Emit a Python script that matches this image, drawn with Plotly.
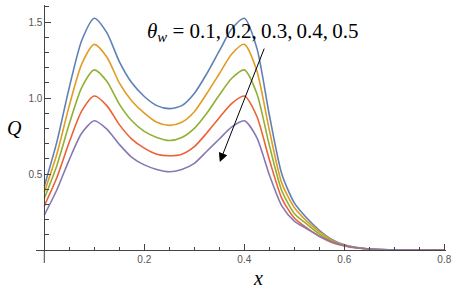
import plotly.graph_objects as go

x_vals = [0, 0.025, 0.05, 0.075, 0.1, 0.125, 0.15, 0.175, 0.2, 0.225, 0.25, 0.275,
          0.3, 0.325, 0.35, 0.375, 0.4, 0.425, 0.45, 0.475, 0.5, 0.525, 0.55, 0.575,
          0.6, 0.625, 0.65, 0.675, 0.7, 0.75, 0.8]

q_01 = [0.42, 0.71, 1.07, 1.38, 1.525, 1.43, 1.24, 1.10, 1.01, 0.95, 0.93, 0.95,
        1.03, 1.16, 1.31, 1.455, 1.525, 1.33, 0.89, 0.50, 0.31, 0.21, 0.13, 0.07,
        0.035, 0.016, 0.007, 0.003, 0.001, 0, 0]
q_02 = [0.38, 0.63, 0.95, 1.225, 1.353, 1.27, 1.10, 0.98, 0.90, 0.84, 0.82, 0.84,
        0.91, 1.03, 1.16, 1.29, 1.353, 1.18, 0.79, 0.44, 0.28, 0.19, 0.12, 0.065,
        0.033, 0.016, 0.007, 0.003, 0.001, 0, 0]
q_03 = [0.34, 0.555, 0.83, 1.07, 1.185, 1.11, 0.96, 0.85, 0.78, 0.74, 0.72, 0.74,
        0.80, 0.90, 1.02, 1.13, 1.185, 1.03, 0.69, 0.39, 0.24, 0.17, 0.105, 0.058,
        0.030, 0.015, 0.006, 0.002, 0.001, 0, 0]
q_04 = [0.29, 0.475, 0.71, 0.915, 1.013, 0.95, 0.825, 0.73, 0.67, 0.63, 0.62, 0.63,
        0.68, 0.77, 0.87, 0.965, 1.013, 0.88, 0.595, 0.34, 0.21, 0.145, 0.09, 0.05,
        0.027, 0.013, 0.006, 0.002, 0.001, 0, 0]
q_05 = [0.23, 0.395, 0.595, 0.77, 0.85, 0.795, 0.695, 0.61, 0.56, 0.53, 0.515, 0.53,
        0.57, 0.65, 0.73, 0.81, 0.85, 0.74, 0.495, 0.29, 0.19, 0.14, 0.09, 0.055,
        0.03, 0.015, 0.007, 0.003, 0.001, 0, 0]

series = [q_01, q_02, q_03, q_04, q_05]
colors = ["#5E81B5", "#E19C24", "#8FB032", "#EB6235", "#8778B3"]

x_ticks = [0.2, 0.4, 0.6, 0.8]
x_ticklabels = ["0.2", "0.4", "0.6", "0.8"]
y_ticks = [0.5, 1.0, 1.5]
y_ticklabels = ["0.5", "1.0", "1.5"]

axis_col = "#444444"
tick_font = dict(family="Liberation Sans, Arial", size=10, color="#555555")

fig = go.Figure()
for ys, c in zip(series, colors):
    fig.add_trace(go.Scatter(x=x_vals, y=ys, mode="lines",
                             line=dict(color=c, width=1.6, shape="spline", smoothing=0.7),
                             showlegend=False, hoverinfo="skip"))

W, H = 456, 290
ml, mr, mt, mb = 36, 10, 5, 40
xr = [-0.0166, 0.8034]
yr = [0, 1.612]
ypos = (0 - xr[0]) / (xr[1] - xr[0])

fig.update_layout(
    width=W, height=H, margin=dict(l=ml, r=mr, t=mt, b=mb, autoexpand=False),
    paper_bgcolor="white", plot_bgcolor="white",
    xaxis=dict(range=xr, showgrid=False, zeroline=False, showline=True, automargin=False,
               linecolor=axis_col, linewidth=1, ticks="inside", ticklen=6,
               tickcolor=axis_col, tickwidth=1, tickvals=x_ticks, ticktext=x_ticklabels,
               tickfont=tick_font,
               minor=dict(tickmode="linear", tick0=0, dtick=0.05, ticks="inside",
                          ticklen=3.5, tickcolor=axis_col, tickwidth=1, showgrid=False)),
    yaxis=dict(range=yr, showgrid=False, zeroline=False, showline=True, automargin=False,
               anchor="free", position=ypos,
               linecolor=axis_col, linewidth=1, ticks="inside", ticklen=6,
               tickcolor=axis_col, tickwidth=1, tickvals=y_ticks, ticktext=y_ticklabels,
               tickfont=tick_font,
               minor=dict(tickmode="linear", tick0=0, dtick=0.1, ticks="inside",
                          ticklen=3.5, tickcolor=axis_col, tickwidth=1, showgrid=False)),
)

# y-axis extension below the x-axis (Mathematica style)
fig.add_shape(type="line", xref="x", yref="paper", x0=0, x1=0, y0=0, y1=-13 / 245,
              line=dict(color=axis_col, width=1))

serif = "Liberation Serif, Times New Roman, serif"
fig.add_annotation(xref="paper", yref="paper", x=(14 - ml) / 410, y=(250 - 128) / 245,
                   xanchor="center", yanchor="middle",
                   text="<i>Q</i>", showarrow=False,
                   font=dict(family=serif, size=20, color="black"))
fig.add_annotation(xref="paper", yref="paper", x=(258 - ml) / 410, y=(250 - 278) / 245,
                   xanchor="center", yanchor="middle",
                   text="<i>x</i>", showarrow=False,
                   font=dict(family=serif, size=20, color="black"))
fig.add_annotation(x=0.417, y=1.434, xref="x", yref="y",
                   text="<i>θ</i><sub><i>w</i></sub> = 0.1,\u20090.2,\u20090.3,\u20090.4,\u20090.5",
                   showarrow=False, font=dict(family=serif, size=21, color="black"))
fig.add_annotation(x=0.351, y=0.579, ax=0.441, ay=1.335, xref="x", yref="y",
                   axref="x", ayref="y", text="", showarrow=True,
                   arrowhead=2, arrowsize=1.8, arrowwidth=1, arrowcolor="black")

fig.write_html("out.html", config={"displayModeBar": False},
               post_script="document.body.style.margin='0';document.body.style.overflow='hidden';")
